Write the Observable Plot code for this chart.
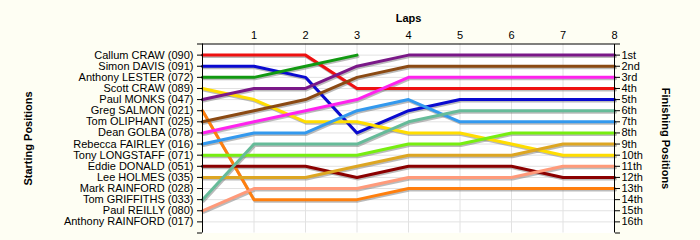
<!DOCTYPE html>
<html>
<head>
<meta charset="utf-8">
<script src="https://cdn.jsdelivr.net/npm/d3@7"></script>
<script src="https://cdn.jsdelivr.net/npm/@observablehq/plot@0.6"></script>
<style>
  html, body { margin: 0; padding: 0; background: #fefef3; }
</style>
</head>
<body>
<div id="chart"></div>
<script>
const laps = [0, 1, 2, 3, 4, 5, 6, 7, 8];
const lapTicks = [1, 2, 3, 4, 5, 6, 7, 8];
const starters = [
  "Callum CRAW (090)", "Simon DAVIS (091)", "Anthony LESTER (072)", "Scott CRAW (089)",
  "Paul MONKS (047)", "Greg SALMON (021)", "Tom OLIPHANT (025)", "Dean GOLBA (078)",
  "Rebecca FAIRLEY (016)", "Tony LONGSTAFF (071)", "Eddie DONALD (051)", "Lee HOLMES (035)",
  "Mark RAINFORD (028)", "Tom GRIFFITHS (033)", "Paul REILLY (080)", "Anthony RAINFORD (017)"
];
const finishLabels = ["1st","2nd","3rd","4th","5th","6th","7th","8th","9th","10th","11th","12th","13th","14th","15th","16th"];

// positions per lap (lap 0 .. lap 8); null = not running
const callumCraw     = [1, 1, 1, 4, 4, 4, 4, 4, 4];
const simonDavis     = [2, 2, 3, 8, 6, 5, 5, 5, 5];
const anthonyLester  = [3, 3, 2, 1, null, null, null, null, null];
const scottCraw      = [4, 5, 7, 7, 8, 8, 9, 10, 10];
const paulMonks      = [5, 4, 4, 2, 1, 1, 1, 1, 1];
const gregSalmon     = [6, 14, 14, 14, 13, 13, 13, 13, 13];
const tomOliphant    = [7, 6, 5, 3, 2, 2, 2, 2, 2];
const deanGolba      = [8, 7, 6, 5, 3, 3, 3, 3, 3];
const rebeccaFairley = [9, 8, 8, 6, 5, 7, 7, 7, 7];
const tonyLongstaff  = [10, 10, 10, 10, 9, 9, 8, 8, 8];
const eddieDonald    = [11, 11, 11, 12, 11, 11, 11, 12, 12];
const leeHolmes      = [12, 12, 12, 11, 10, 10, 10, 9, 9];
const markRainford   = [null, null, null, null, null, null, null, null, null];
const tomGriffiths   = [14, 9, 9, 9, 7, 6, 6, 6, 6];
const paulReilly     = [15, 13, 13, 13, 12, 12, 12, 11, 11];
const anthonyRainford= [null, null, null, null, null, null, null, null, null];

const series = [callumCraw, simonDavis, anthonyLester, scottCraw, paulMonks, gregSalmon,
  tomOliphant, deanGolba, rebeccaFairley, tonyLongstaff, eddieDonald, leeHolmes,
  markRainford, tomGriffiths, paulReilly, anthonyRainford];

const colors = ["#ee1111", "#0a0ad0", "#119911", "#ffdd00", "#7a1888", "#ff7f0e",
  "#8b4a13", "#ff22ee", "#3399ee", "#77ee11", "#8b0000", "#dda622",
  "#999999", "#66bb99", "#ff9a7a", "#999999"];

const rows = [];
starters.forEach((name, i) => {
  laps.forEach((lap, j) => {
    rows.push({driver: name, lap, pos: series[i][j]});
  });
});
const positions = d3.range(1, 17);
const allTicks = d3.range(0, 18);

const chart = Plot.plot({
  width: 700,
  height: 240,
  marginLeft: 202,
  marginRight: 86,
  marginTop: 43.5,
  marginBottom: 7.5,
  style: {fontFamily: "'Liberation Sans', Arial, sans-serif", fontSize: "11px", background: "#fefef3", color: "#000"},
  x: {domain: [0, 8]},
  y: {domain: [0, 17], reverse: true},
  color: {domain: starters, range: colors},
  marks: [
    Plot.frame({fill: "white", stroke: null}),
    Plot.ruleX(lapTicks.slice(0, 7), {stroke: "#e2e2e2"}),
    Plot.ruleY(positions, {stroke: "#e2e2e2"}),
    Plot.line(rows, {x: "lap", y: "pos", z: "driver", stroke: "#777", strokeOpacity: 0.5, strokeWidth: 3, dx: 1, dy: 1.5}),
    Plot.line(rows, {x: "lap", y: "pos", z: "driver", stroke: "driver", strokeWidth: 3}),
    Plot.ruleY([0], {stroke: "#000"}),
    Plot.ruleX([0], {stroke: "#000"}),
    Plot.ruleX([8], {stroke: "#000"}),
    Plot.axisX({anchor: "top", ticks: lapTicks, tickSize: 0, tickPadding: 5, label: null, fontSize: 11}),
    Plot.axisY({anchor: "left", ticks: allTicks, tickSize: 5, tickPadding: 4, label: null,
      tickFormat: d => (d >= 1 && d <= 16) ? starters[d - 1] : ""}),
    Plot.axisY({anchor: "right", ticks: allTicks, tickSize: 5, tickPadding: 2, label: null,
      tickFormat: d => (d >= 1 && d <= 16) ? finishLabels[d - 1] : ""}),
    Plot.text(["Laps"], {frameAnchor: "top", dy: -29.5, fontWeight: "bold", fontSize: 11}),
    Plot.text(["Starting Positions"], {frameAnchor: "left", dx: -174, rotate: -90, textAnchor: "middle", fontWeight: "bold", fontSize: 11}),
    Plot.text(["Finishing Positions"], {frameAnchor: "right", dx: 51, rotate: 90, textAnchor: "middle", fontWeight: "bold", fontSize: 11})
  ]
});
document.getElementById("chart").appendChild(chart);
</script>
</body>
</html>
